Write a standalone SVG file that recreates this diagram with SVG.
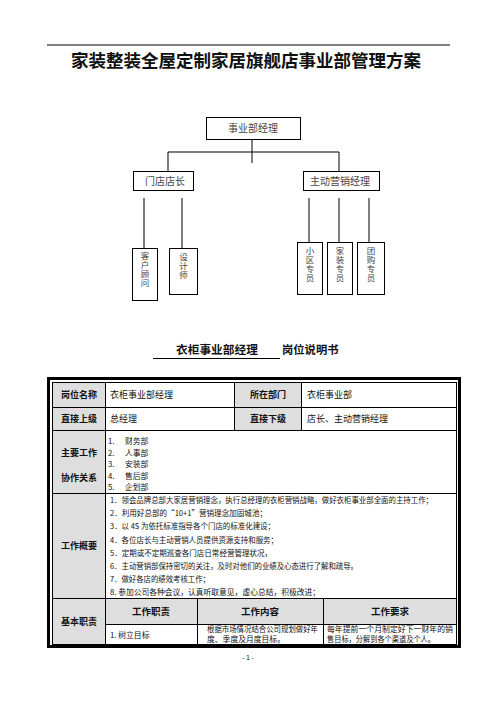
<svg xmlns="http://www.w3.org/2000/svg" width="496" height="702" viewBox="0 0 496 702">
<style>
text{font-family:"Noto Sans CJK SC","Noto Sans",sans-serif;fill:#111}
.title{font-size:17.5px;font-weight:bold;text-anchor:middle}
.org{font-size:10px;fill:#444;text-anchor:middle}
.vt{font-size:8.5px;fill:#444;writing-mode:vertical-rl;letter-spacing:0.4px}
.box{fill:#fff;stroke:#000;stroke-width:1}
.ln{stroke:#000;stroke-width:1;fill:none}
.lab{font-size:9px;font-weight:bold;text-anchor:middle}
.hd{font-size:9.5px;font-weight:bold;text-anchor:middle}
.c{font-size:9px}
.s{font-size:7.8px}
.gray{fill:#dedede}
</style>
<rect width="496" height="702" fill="#fff"/>
<line x1="47" y1="45" x2="450" y2="45" class="ln"/>
<text class="title" x="246" y="67">家装整装全屋定制家居旗舰店事业部管理方案</text>

<g id="connectors">
<line class="ln" x1="252" y1="139" x2="252" y2="163"/>
<line class="ln" x1="168" y1="152" x2="339" y2="152"/>
<line class="ln" x1="168" y1="152" x2="168" y2="171"/>
<line class="ln" x1="339" y1="152" x2="339" y2="171"/>
<line class="ln" x1="144" y1="198" x2="144" y2="248"/>
<line class="ln" x1="182" y1="198" x2="182" y2="248"/>
<line class="ln" x1="309" y1="198" x2="309" y2="242"/>
<line class="ln" x1="339" y1="198" x2="339" y2="242"/>
<line class="ln" x1="369" y1="198" x2="369" y2="242"/>
</g>

<g id="n-manager"><rect class="box" x="206.5" y="117.5" width="94" height="22"/><text class="org" x="253" y="131.5">事业部经理</text></g>
<g id="n-store"><rect class="box" x="133.5" y="171.5" width="60" height="19"/><text class="org" x="165" y="184.5">门店店长</text></g>
<g id="n-sales"><rect class="box" x="303.5" y="171.5" width="76" height="19"/><text class="org" x="340" y="184.5">主动营销经理</text></g>
<g id="n-advisor"><rect class="box" x="132.5" y="248.5" width="25" height="52"/><text class="vt" x="145" y="252">客户顾问</text></g>
<g id="n-designer"><rect class="box" x="169.5" y="248.5" width="28" height="46"/><text class="vt" x="183.5" y="253">设计师</text></g>
<g id="n-community"><rect class="box" x="297.5" y="242.5" width="25" height="52"/><text class="vt" x="310" y="247">小区专员</text></g>
<g id="n-decor"><rect class="box" x="327.5" y="242.5" width="25" height="52"/><text class="vt" x="340" y="247">家装专员</text></g>
<g id="n-group"><rect class="box" x="357.5" y="242.5" width="27" height="52"/><text class="vt" x="371" y="247">团购专员</text></g>

<g id="subtitle">
<text x="176" y="354" style="font-size:11.7px;font-weight:bold">衣柜事业部经理</text>
<line class="ln" x1="153" y1="358.5" x2="280" y2="358.5"/>
<text x="282" y="354" style="font-size:11.3px;font-weight:bold">岗位说明书</text>
</g>

<g id="table">
<rect class="gray" x="52" y="382" width="53" height="263"/>
<rect class="gray" x="234" y="382" width="67" height="48"/>
<rect class="gray" x="105" y="598" width="351" height="26"/>
<rect x="48.5" y="378.5" width="411" height="268" fill="none" stroke="#000" stroke-width="3"/>
<rect x="52.5" y="382.5" width="404" height="262" fill="none" stroke="#000" stroke-width="1"/>
<line class="ln" x1="52" y1="407.5" x2="456" y2="407.5"/>
<line class="ln" x1="52" y1="430.5" x2="456" y2="430.5"/>
<line class="ln" x1="52" y1="493.5" x2="456" y2="493.5"/>
<line class="ln" x1="52" y1="598.5" x2="456" y2="598.5"/>
<line class="ln" x1="105" y1="624.5" x2="456" y2="624.5"/>
<line class="ln" x1="105.5" y1="382" x2="105.5" y2="645"/>
<line class="ln" x1="234.5" y1="382" x2="234.5" y2="430"/>
<line class="ln" x1="301.5" y1="382" x2="301.5" y2="430"/>
<line class="ln" x1="197.5" y1="598" x2="197.5" y2="645"/>
<line class="ln" x1="323.5" y1="598" x2="323.5" y2="645"/>

<text class="lab" x="79" y="398">岗位名称</text>
<text class="c" x="110" y="398">衣柜事业部经理</text>
<text class="lab" x="268" y="398">所在部门</text>
<text class="c" x="307" y="398">衣柜事业部</text>
<text class="lab" x="79" y="422">直接上级</text>
<text class="c" x="110" y="422">总经理</text>
<text class="lab" x="268" y="422">直接下级</text>
<text class="c" x="307" y="422">店长、主动营销经理</text>

<text class="lab" x="79" y="455.5">主要工作</text>
<text class="lab" x="79" y="480.5">协作关系</text>
<text class="s" x="108" y="443.8">1.</text><text class="s" x="125" y="443.8">财务部</text>
<text class="s" x="108" y="455.5">2.</text><text class="s" x="125" y="455.5">人事部</text>
<text class="s" x="108" y="467">3.</text><text class="s" x="125" y="467">安装部</text>
<text class="s" x="108" y="478.5">4.</text><text class="s" x="125" y="478.5">售后部</text>
<text class="s" x="108" y="490">5.</text><text class="s" x="125" y="490">企划部</text>

<text class="lab" x="79" y="549">工作概要</text>
<text class="s" x="110" y="503" textLength="323" lengthAdjust="spacingAndGlyphs">1．领会品牌总部大家居营销理念，执行总经理的衣柜营销战略，做好衣柜事业部全面的主持工作；</text>
<text class="s" x="110" y="516.2" textLength="157" lengthAdjust="spacingAndGlyphs">2．利用好总部的“10+1”营销理念加固城池；</text>
<text class="s" x="110" y="529.4" textLength="165" lengthAdjust="spacingAndGlyphs">3．以 4S 为依托标准指导各个门店的标准化建设；</text>
<text class="s" x="110" y="542.6" textLength="168" lengthAdjust="spacingAndGlyphs">4．各位店长与主动营销人员提供资源支持和服务；</text>
<text class="s" x="110" y="555.8" textLength="162" lengthAdjust="spacingAndGlyphs">5．定期或不定期巡查各门店日常经营管理状况，</text>
<text class="s" x="110" y="569" textLength="248" lengthAdjust="spacingAndGlyphs">6．主动营销部保持密切的关注，及时对他们的业绩及心态进行了解和疏导。</text>
<text class="s" x="110" y="582.2" textLength="100" lengthAdjust="spacingAndGlyphs">7．做好各店的绩效考核工作；</text>
<text class="s" x="110" y="595.4" textLength="210" lengthAdjust="spacingAndGlyphs">8. 参加公司各种会议，认真听取意见，虚心总结，积极改进；</text>

<text class="lab" x="79" y="625">基本职责</text>
<text class="hd" x="151" y="614.5">工作职责</text>
<text class="hd" x="260" y="614.5">工作内容</text>
<text class="hd" x="390" y="614.5">工作要求</text>
<text class="s" x="110" y="637.5">1. 树立目标</text>
<text class="s" x="207" y="632" textLength="111" lengthAdjust="spacingAndGlyphs">根据市场情况结合公司规划做好年</text>
<text class="s" x="207" y="642.3">度、季度及月度目标。</text>
<text class="s" x="327" y="632" textLength="126" lengthAdjust="spacingAndGlyphs">每年提前一个月制定好下一财年的销</text>
<text class="s" x="327" y="642.3" textLength="108" lengthAdjust="spacingAndGlyphs">售目标，分解到各个渠道及个人。</text>
</g>

<text x="248" y="660" style="font-size:7px;text-anchor:middle">- 1 -</text>
</svg>
